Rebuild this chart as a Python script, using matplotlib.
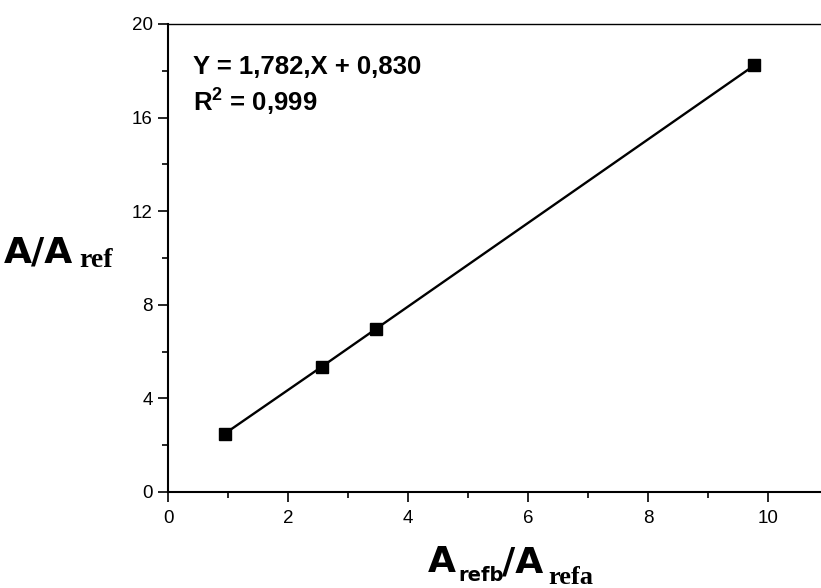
import matplotlib
matplotlib.use("Agg")
import matplotlib.pyplot as plt
import numpy as np

# ratio of reference areas vs. area ratio
x_ratio = [0.95, 2.56, 3.46, 9.77]
y_ratio = [2.50, 5.35, 6.96, 18.23]

slope = 1.782
intercept = 0.830
r2 = 0.999

xticks = [0, 2, 4, 6, 8, 10]
yticks = [0, 4, 8, 12, 16, 20]

plt.rcParams["mathtext.fontset"] = "custom"
plt.rcParams["mathtext.bf"] = "Liberation Sans:bold"
plt.rcParams["mathtext.rm"] = "Liberation Sans"

fig = plt.figure(figsize=(8.21, 5.88), dpi=100)
ax = fig.add_axes([168 / 821, 1 - 492 / 588, 1 - 168 / 821, 468 / 588])

ax.plot(x_ratio, y_ratio, color="black", lw=1.7, marker="s", ms=8,
        mfc="black", mec="black", zorder=3)

ax.set_xlim(0, 653 / 60)
ax.set_ylim(0, 20)
ax.set_xticks(xticks)
ax.set_yticks(yticks)
ax.set_xticks([1, 3, 5, 7, 9], minor=True)
ax.set_yticks([2, 6, 10, 14, 18], minor=True)

ax.spines["right"].set_visible(False)
ax.spines["left"].set_linewidth(1.5)
ax.spines["bottom"].set_linewidth(1.5)
ax.spines["top"].set_linewidth(1.0)

ax.tick_params(which="major", direction="out", length=7, width=1.2,
               labelsize=13.5, top=False, right=False)
ax.tick_params(which="minor", direction="out", length=4.3, width=1.2,
               top=False, right=False)
ax.tick_params(axis="x", which="major", pad=6)
ax.tick_params(axis="y", which="major", pad=4)
for lab in ax.get_xticklabels() + ax.get_yticklabels():
    lab.set_fontfamily("Liberation Sans")

# fit equation
eq = f"Y = {slope:.3f},X + {intercept:.3f}".replace(".", ",")
ax.text(0.42, 17.86, eq, fontsize=18.5, fontweight="bold",
        family="Liberation Sans", va="baseline", ha="left")
ax.text(0.42, 16.32, r"R$^{\mathbf{2}}$ = " + f"{r2:.3f}".replace(".", ","),
        fontsize=18.5, fontweight="bold", family="Liberation Sans",
        va="baseline", ha="left")

# axis titles built from pieces (mixed fonts)
W, H = 821, 588


def ftext(px, py, s, size, family):
    fig.text(px / W, 1 - py / H, s, fontsize=size, fontweight="bold",
             family=family, ha="left", va="baseline")


ftext(4, 263, "A/A", 26, "DejaVu Sans")
ftext(79, 267, "ref", 20, "Liberation Serif")

ftext(428, 572, "A", 26, "DejaVu Sans")
ftext(458, 581, "refb", 14, "DejaVu Sans")
ftext(502, 572, "/A", 26, "DejaVu Sans")
ftext(548, 584, "refa", 19, "Liberation Serif")

fig.savefig("out.png", dpi=100)
